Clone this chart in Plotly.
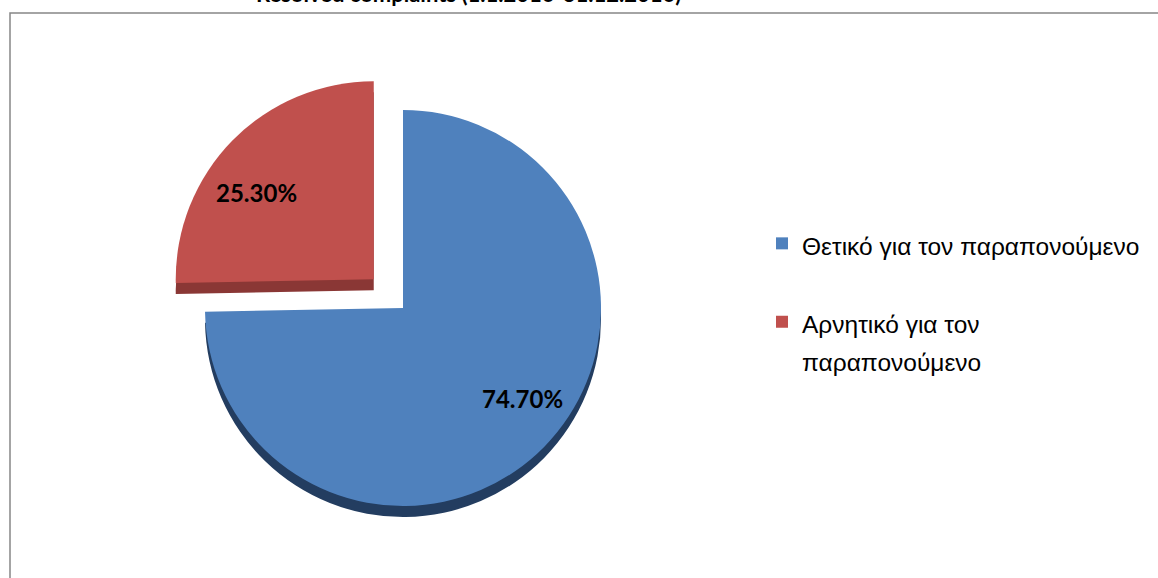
import plotly.graph_objects as go

# Resolved complaints split by outcome (percent)
outcomes = ["Θετικό για τον παραπονούμενο", "Αρνητικό για τον παραπονούμενο"]
shares = [74.70, 25.30]
pulls = [0, 0.207]

face_colors = ["#4f81bd", "#c0504d"]
edge_colors = ["#233d60", "#8a3735"]

W, H = 1158, 578
cx, cy = 403, 308          # pie centre in pixels
box = 478                  # square box holding the pie incl. pull
depth = 11                 # visual thickness of the pie edge

# where each percentage label sits (pixels from top-left)
label_pos = [(522, 398), (256, 192)]

# legend entries: a larger legend line height spreads the entries apart,
# the visible text itself is set at a smaller size
legend_text_px = 24.5
legend_labels = [
    f'<span style="font-size:{legend_text_px}px">Θετικό για τον παραπονούμενο</span><br> ',
    f'<span style="font-size:{legend_text_px}px">Αρνητικό για τον</span><br>'
    f'<span style="font-size:{legend_text_px}px">παραπονούμενο</span>',
]


def dom(cx_px, cy_px):
    x0 = (cx_px - box / 2) / W
    x1 = (cx_px + box / 2) / W
    y0 = 1 - (cy_px + box / 2) / H
    y1 = 1 - (cy_px - box / 2) / H
    return dict(x=[x0, x1], y=[y0, y1])


fig = go.Figure()

# darker copy slightly lower gives the slab its thickness
fig.add_trace(go.Pie(
    labels=legend_labels, values=shares, pull=pulls, sort=False,
    direction="clockwise", rotation=0,
    marker=dict(colors=edge_colors, line=dict(width=0)),
    textinfo="none", hoverinfo="skip", showlegend=False,
    domain=dom(cx, cy + depth),
))

fig.add_trace(go.Pie(
    labels=legend_labels, values=shares, pull=pulls, sort=False,
    direction="clockwise", rotation=0,
    marker=dict(colors=face_colors, line=dict(width=0)),
    textinfo="none", customdata=outcomes,
    hovertemplate="%{customdata}: %{value:.2f}%<extra></extra>",
    domain=dom(cx, cy),
))

annotations = [
    dict(
        text=f"<b>{v:.2f}%</b>",
        xref="paper", yref="paper", x=px / W, y=1 - py / H,
        xanchor="center", yanchor="middle", showarrow=False,
        font=dict(family="Lato", size=24, color="#000000"),
    )
    for v, (px, py) in zip(shares, label_pos)
]
annotations.append(dict(
    text="<b>Resolved complaints (1.1.2016-31.12.2016)</b>",
    xref="paper", yref="paper", x=468 / W, y=1 - 9 / H,
    xanchor="center", yanchor="bottom", showarrow=False,
    font=dict(family="Lato", size=22, color="#000000"),
))

fig.update_layout(
    width=W, height=H,
    margin=dict(l=0, r=0, t=0, b=0),
    paper_bgcolor="white",
    plot_bgcolor="white",
    showlegend=True,
    legend=dict(
        x=762 / W, xanchor="left",
        y=1 - 218 / H, yanchor="top",
        font=dict(family="Liberation Sans", size=29, color="#000000"),
        valign="top",
        bgcolor="rgba(0,0,0,0)",
    ),
    shapes=[dict(
        type="rect", xref="paper", yref="paper",
        x0=10 / W, x1=1.02, y0=-0.02, y1=1 - 13 / H,
        line=dict(color="#868686", width=1.5), layer="below",
    )],
    annotations=annotations,
)

fig.write_html("out.html")
